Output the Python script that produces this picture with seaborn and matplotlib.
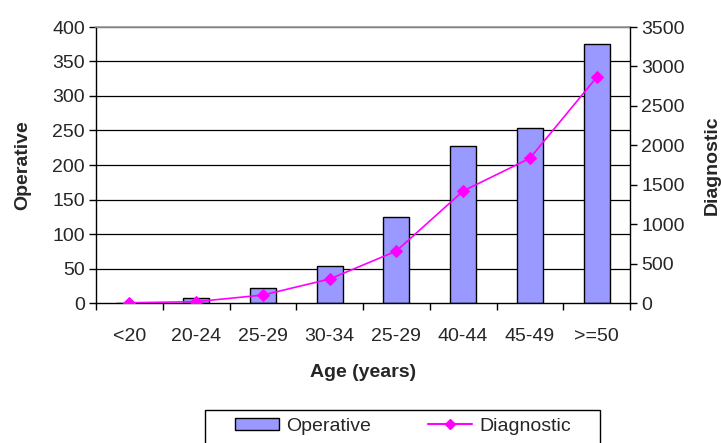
import numpy as np
import pandas as pd
import matplotlib
matplotlib.use("Agg")
import matplotlib.pyplot as plt
import seaborn as sns
from matplotlib.patches import Patch, Rectangle
from matplotlib.lines import Line2D

# data
age_groups = ["<20", "20-24", "25-29", "30-34", "25-29", "40-44", "45-49", ">=50"]
operative = [0, 7, 22, 54, 124, 228, 253, 375]
diagnostic = [3, 17, 101, 304, 659, 1420, 1835, 2862]

sns.set_theme(style="white")
plt.rcParams["font.family"] = ["Liberation Sans", "DejaVu Sans"]
fs = 14

df = pd.DataFrame({"pos": np.arange(len(age_groups)), "age": age_groups,
                   "Operative": operative, "Diagnostic": diagnostic})

fig = plt.figure(figsize=(7.21, 4.43), dpi=100)
ax = fig.add_axes([96 / 721, 1 - 303 / 443, (630 - 96) / 721, (303 - 27) / 443])

# horizontal grid
for v in range(50, 401, 50):
    ax.axhline(v, color="black", lw=0.9, zorder=0)

sns.barplot(data=df, x="pos", y="Operative", color="#9999FF", saturation=1,
            width=0.39, edgecolor="black", linewidth=1, ax=ax, zorder=2)
ax.set_xlim(-0.5, len(age_groups) - 0.5)
ax.set_ylim(0, 400)
ax.set_yticks(range(0, 401, 50))
ax.set_xticks(np.arange(-0.5, len(age_groups), 1.0))
ax.set_xticklabels([])
ax.set_xticks(np.arange(len(age_groups)), minor=True)
ax.set_xticklabels(age_groups, minor=True)
ax.tick_params(axis="x", which="major", direction="out", length=5, width=1,
               color="black", bottom=True)
ax.tick_params(axis="x", which="minor", length=0, pad=18, labelsize=fs)
ax.tick_params(axis="y", direction="out", length=5, width=1, color="black",
               left=True, labelsize=fs, pad=3)
ax.set_xlabel("Age (years)", fontweight="bold", fontsize=fs, labelpad=14)
ax.set_ylabel("Operative", fontweight="bold", fontsize=fs, labelpad=15)
for s in ["left", "bottom"]:
    ax.spines[s].set_color("black")
    ax.spines[s].set_linewidth(1)
ax.spines["top"].set_color("#999999")
ax.spines["right"].set_visible(False)

ax2 = ax.twinx()
sns.lineplot(data=df, x="pos", y="Diagnostic", color="#FF00FF", lw=1.2,
             marker="D", markersize=6, markeredgecolor="#FF00FF", ax=ax2, zorder=3)
ax2.set_ylim(0, 3500)
ax2.set_yticks(range(0, 3501, 500))
ax2.tick_params(axis="y", direction="out", length=5, width=1, color="black",
                right=True, labelsize=fs, pad=3)
ax2.set_ylabel("Diagnostic", fontweight="bold", fontsize=fs, labelpad=14)
ax2.spines["right"].set_color("black")
ax2.spines["right"].set_linewidth(1)
for s in ["left", "top", "bottom"]:
    ax2.spines[s].set_visible(False)
ax2.set_xlim(-0.5, len(age_groups) - 0.5)

# legend box (frame drawn separately, runs off the bottom edge)
fig.patches.append(Rectangle((205 / 721, -0.05), 395 / 721, 0.05 + 1 - 410 / 443,
                             transform=fig.transFigure, fill=False,
                             edgecolor="black", lw=1))
handles = [Patch(facecolor="#9999FF", edgecolor="black", label="Operative"),
           Line2D([0], [0], color="#FF00FF", marker="D", markersize=5, label="Diagnostic")]
leg = fig.legend(handles=handles, loc="upper left", ncol=2,
                 bbox_to_anchor=(226 / 721, 1 - 409 / 443), frameon=False,
                 fontsize=fs, handlelength=2.3, handleheight=0.55,
                 handletextpad=0.35, columnspacing=2.9, borderpad=0.45,
                 borderaxespad=0)

fig.savefig("out.png", dpi=100)
